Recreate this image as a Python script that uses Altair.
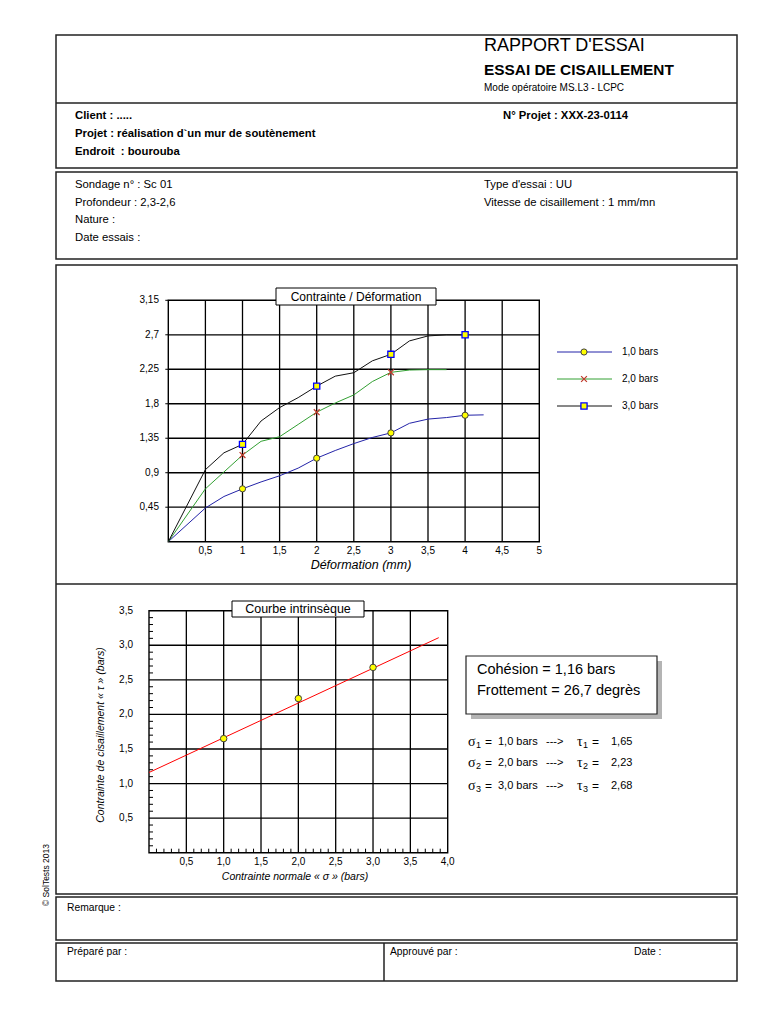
import altair as alt
import pandas as pd

# ---------------- data ----------------
deformation = [0, 0.5, 0.75, 1, 1.25, 1.5, 1.75, 2, 2.25, 2.5, 2.75, 3, 3.25, 3.5, 3.75, 4, 4.25]
tau_1bar = [0, 0.44, 0.59, 0.69, 0.78, 0.86, 0.96, 1.09, 1.19, 1.28, 1.36, 1.42, 1.545, 1.60, 1.62, 1.65, 1.655]
tau_2bar = [0, 0.69, 0.91, 1.13, 1.31, 1.37, 1.53, 1.69, 1.81, 1.915, 2.09, 2.21, 2.24, 2.245, 2.245]
tau_3bar = [0, 0.94, 1.16, 1.27, 1.575, 1.75, 1.88, 2.03, 2.16, 2.205, 2.36, 2.445, 2.62, 2.685, 2.70, 2.70]
marker_x_1bar = [1, 2, 3, 4]
marker_1bar = [0.69, 1.09, 1.42, 1.65]
marker_x_2bar = [1, 2, 3]
marker_2bar = [1.13, 1.69, 2.21]
marker_x_3bar = [1, 2, 3, 4]
marker_3bar = [1.27, 2.03, 2.445, 2.70]
series_names = ["1,0 bars", "2,0 bars", "3,0 bars"]
series_colors = ["#2323a8", "#33a033", "#111111"]

sigma = [1.0, 2.0, 3.0]
tau_max = [1.65, 2.23, 2.68]
fit_sigma = [0.0, 3.88]
fit_tau = [1.16, 3.11]
cohesion = 1.16
friction = 26.7

x1_ticks = [0.5, 1, 1.5, 2, 2.5, 3, 3.5, 4, 4.5, 5]
x1_labels = ["0,5", "1", "1,5", "2", "2,5", "3", "3,5", "4", "4,5", "5"]
y1_ticks = [0.45, 0.9, 1.35, 1.8, 2.25, 2.7, 3.15]
y1_labels = ["0,45", "0,9", "1,35", "1,8", "2,25", "2,7", "3,15"]
x2_ticks = [0.5, 1.0, 1.5, 2.0, 2.5, 3.0, 3.5, 4.0]
x2_labels = ["0,5", "1,0", "1,5", "2,0", "2,5", "3,0", "3,5", "4,0"]
y2_ticks = [0.5, 1.0, 1.5, 2.0, 2.5, 3.0, 3.5]
y2_labels = ["0,5", "1,0", "1,5", "2,0", "2,5", "3,0", "3,5"]
x2_minor = [i / 10 for i in range(1, 40) if i % 5]
y2_minor = [i / 10 for i in range(1, 35) if i % 5]

# ---------------- layout ----------------
W, H, O = 752, 1000, 8
FONT = "Liberation Sans"
SERIF = "Liberation Serif"
ONE = alt.Data(values=[{"k": 0}])
LINE = "#222222"


def txt(s, x, y, size=10.5, weight="normal", style="normal", align="left",
        angle=None, font=FONT, color="#000000"):
    props = dict(align=align, baseline="middle", fontSize=size, fontWeight=weight,
                 fontStyle=style, font=font, color=color)
    if angle is not None:
        props["angle"] = angle
    return alt.Chart(ONE).mark_text(**props).encode(
        x=alt.value(x - O), y=alt.value(y - O), text=alt.value(s))


def rect(x0, y0, x1, y1, fill="white", stroke=LINE, sw=1.5):
    props = dict(fill=fill, strokeWidth=sw)
    if stroke:
        props["stroke"] = stroke
    return alt.Chart(ONE).mark_rect(**props).encode(
        x=alt.value(x0 - O), x2=alt.value(x1 - O),
        y=alt.value(y0 - O), y2=alt.value(y1 - O))


def hline(x0, x1, y, color=LINE, sw=1.5):
    return alt.Chart(ONE).mark_rule(color=color, strokeWidth=sw).encode(
        x=alt.value(x0 - O), x2=alt.value(x1 - O), y=alt.value(y - O))


def vline(x, y0, y1, color=LINE, sw=1.5):
    return alt.Chart(ONE).mark_rule(color=color, strokeWidth=sw).encode(
        x=alt.value(x - O), y=alt.value(y0 - O), y2=alt.value(y1 - O))


def grid(xt, yt, sx, sy, xmax, ymax):
    dv = pd.DataFrame({"v": xt, "lo": 0.0, "hi": ymax})
    dh = pd.DataFrame({"v": yt, "lo": 0.0, "hi": xmax})
    gv = alt.Chart(dv).mark_rule(color="#000", strokeWidth=1.3).encode(
        x=alt.X("v:Q", scale=sx, axis=None),
        y=alt.Y("lo:Q", scale=sy, axis=None), y2="hi:Q")
    gh = alt.Chart(dh).mark_rule(color="#000", strokeWidth=1.3).encode(
        y=alt.Y("v:Q", scale=sy, axis=None),
        x=alt.X("lo:Q", scale=sx, axis=None), x2="hi:Q")
    fr = alt.Chart(pd.DataFrame({"x0": [0.0], "x1": [xmax], "y0": [0.0], "y1": [ymax]})).mark_rect(
        fillOpacity=0, stroke="#000", strokeWidth=1.4).encode(
        x=alt.X("x0:Q", scale=sx, axis=None), x2="x1:Q",
        y=alt.Y("y0:Q", scale=sy, axis=None), y2="y1:Q")
    return [gv, gh, fr]


def xlabels(vals, labs, sx, ypix, size=10):
    df = pd.DataFrame({"v": vals, "lab": labs})
    return alt.Chart(df).mark_text(align="center", baseline="middle", fontSize=size,
                                   font=FONT, color="#000").encode(
        x=alt.X("v:Q", scale=sx, axis=None), y=alt.value(ypix - O), text="lab:N")


def ylabels(vals, labs, sy, xpix, size=10):
    df = pd.DataFrame({"v": vals, "lab": labs})
    return alt.Chart(df).mark_text(align="right", baseline="middle", fontSize=size,
                                   font=FONT, color="#000").encode(
        y=alt.Y("v:Q", scale=sy, axis=None), x=alt.value(xpix - O), text="lab:N")


layers = []

# ---- page frames ----
layers += [
    rect(56, 35, 737, 168),
    hline(56, 737, 103),
    rect(56, 172, 737, 259),
    rect(56, 265, 737, 894),
    hline(56, 737, 584),
    rect(56, 897, 737, 940),
    rect(56, 943, 737, 981),
    vline(384, 943, 981),
]

# ---- header texts ----
layers += [
    txt("RAPPORT D'ESSAI", 484, 46, 18),
    txt("ESSAI DE CISAILLEMENT", 484, 70, 15.4, "bold"),
    txt("Mode opératoire MS.L3 - LCPC", 484, 88, 10),
    txt("Client : .....", 75, 116, 11.3, "bold"),
    txt("N° Projet : XXX-23-0114", 503, 116, 11.3, "bold"),
    txt("Projet : réalisation d`un mur de soutènement", 75, 134, 11.3, "bold"),
    txt("Endroit \u00a0: bourouba", 75, 152, 11.3, "bold"),
    txt("Sondage n° : Sc 01", 75, 185, 11.3),
    txt("Profondeur : 2,3-2,6", 75, 203, 11.3),
    txt("Nature :", 75, 220, 11.3),
    txt("Date essais :", 75, 238, 11.3),
    txt("Type d'essai : UU", 484, 185, 11.3),
    txt("Vitesse de cisaillement : 1 mm/mn", 484, 203, 11.3),
    txt("Remarque :", 67, 908, 10.3),
    txt("Préparé par :", 67, 952, 10.3),
    txt("Approuvé par :", 390, 952, 10.3),
    txt("Date :", 634, 952, 10.3),
    txt("© SolTests 2013", 46, 875, 8.5, align="center", angle=270),
]

# ---- chart 1 : Contrainte / Déformation ----
X1L, X1R, Y1B, Y1T = 168.3, 539.3, 541.7, 300.3
sx1 = alt.Scale(domain=[0, 5], range=[X1L - O, X1R - O], nice=False, zero=False)
sy1 = alt.Scale(domain=[0, 3.15], range=[Y1B - O, Y1T - O], nice=False, zero=False)
layers += grid(x1_ticks[:-1], y1_ticks[:-1], sx1, sy1, 5, 3.15)
layers.append(alt.Chart(pd.DataFrame({"v": y1_ticks})).mark_rule(color="#000", strokeWidth=1).encode(
    y=alt.Y("v:Q", scale=sy1, axis=None), x=alt.value(X1L - O - 3), x2=alt.value(X1L - O)))
layers.append(xlabels(x1_ticks, x1_labels, sx1, 551))
layers.append(ylabels(y1_ticks, y1_labels, sy1, 159))

curves = [tau_1bar, tau_2bar, tau_3bar]
mk_x = [marker_x_1bar, marker_x_2bar, marker_x_3bar]
mk_y = [marker_1bar, marker_2bar, marker_3bar]
mk_style = [
    dict(shape="circle", filled=True, fill="#ffff00", stroke="#404040", strokeWidth=1, size=38),
    dict(shape="M-1,-1L1,1M-1,1L1,-1", filled=False, stroke="#c0392b", strokeWidth=1.2, size=34),
    dict(shape="square", filled=True, fill="#ffff00", stroke="#0000ff", strokeWidth=1.3, size=38),
]
for i, ys in enumerate(curves):
    df = pd.DataFrame({"d": deformation[:len(ys)], "t": ys})
    layers.append(alt.Chart(df).mark_line(color=series_colors[i], strokeWidth=1).encode(
        x=alt.X("d:Q", scale=sx1, axis=None),
        y=alt.Y("t:Q", scale=sy1, axis=None),
        order="d:Q"))
for i in range(3):
    dm = pd.DataFrame({"d": mk_x[i], "t": mk_y[i]})
    layers.append(alt.Chart(dm).mark_point(opacity=1, **mk_style[i]).encode(
        x=alt.X("d:Q", scale=sx1, axis=None), y=alt.Y("t:Q", scale=sy1, axis=None)))

# title box chart 1
layers += [rect(276, 288, 436, 305, stroke="#000", sw=1),
           txt("Contrainte / Déformation", 356, 297, 12, align="center"),
           txt("Déformation (mm)", 361, 565, 12.5, style="italic", align="center")]

# legend chart 1
sleg = alt.Scale(type="point", domain=series_names, range=[352 - O, 406 - O], padding=0)
dleg = pd.DataFrame({"name": series_names})
layers.append(alt.Chart(dleg).mark_rule(strokeWidth=1).encode(
    x=alt.value(557 - O), x2=alt.value(612 - O),
    y=alt.Y("name:N", scale=sleg, axis=None),
    color=alt.Color("name:N", scale=alt.Scale(domain=series_names, range=series_colors), legend=None)))
for i, nm in enumerate(series_names):
    layers.append(alt.Chart(pd.DataFrame({"name": [nm]})).mark_point(opacity=1, **mk_style[i]).encode(
        x=alt.value(584 - O), y=alt.Y("name:N", scale=sleg, axis=None)))
layers.append(alt.Chart(dleg).mark_text(align="left", baseline="middle", fontSize=10, font=FONT, color="#000").encode(
    x=alt.value(622 - O), y=alt.Y("name:N", scale=sleg, axis=None), text="name:N"))

# ---- chart 2 : Courbe intrinsèque ----
X2L, X2R, Y2B, Y2T = 149.0, 447.7, 852.7, 610.7
sx2 = alt.Scale(domain=[0, 4], range=[X2L - O, X2R - O], nice=False, zero=False)
sy2 = alt.Scale(domain=[0, 3.5], range=[Y2B - O, Y2T - O], nice=False, zero=False)
layers += grid(x2_ticks[:-1], y2_ticks[:-1], sx2, sy2, 4.0, 3.5)

# minor ticks (inside)
layers.append(alt.Chart(pd.DataFrame({"v": x2_minor})).mark_rule(color="#000", strokeWidth=1).encode(
    x=alt.X("v:Q", scale=sx2, axis=None), y=alt.value(Y2B - O), y2=alt.value(Y2B - O - 4)))
layers.append(alt.Chart(pd.DataFrame({"v": y2_minor})).mark_rule(color="#000", strokeWidth=1).encode(
    y=alt.Y("v:Q", scale=sy2, axis=None), x=alt.value(X2L - O), x2=alt.value(X2L - O + 4)))
layers.append(xlabels(x2_ticks, x2_labels, sx2, 862))
layers.append(ylabels(y2_ticks, y2_labels, sy2, 133))

dfit = pd.DataFrame({"s": fit_sigma, "t": fit_tau})
layers.append(alt.Chart(dfit).mark_line(color="#ff0000", strokeWidth=1).encode(
    x=alt.X("s:Q", scale=sx2, axis=None), y=alt.Y("t:Q", scale=sy2, axis=None)))
dpts = pd.DataFrame({"s": sigma, "t": tau_max})
layers.append(alt.Chart(dpts).mark_point(shape="circle", filled=True, fill="#ffff00", stroke="#404040",
                                         strokeWidth=1, size=42, opacity=1).encode(
    x=alt.X("s:Q", scale=sx2, axis=None), y=alt.Y("t:Q", scale=sy2, axis=None)))

layers += [rect(232, 601, 364, 617, stroke="#000", sw=1),
           txt("Courbe intrinsèque", 298, 609, 12.5, align="center"),
           txt("Contrainte normale « σ » (bars)", 295, 877, 10.5, style="italic", align="center"),
           txt("Contrainte de cisaillement « τ » (bars)", 101, 735, 10.5, style="italic",
               align="center", angle=270)]


def fr(v, d):
    return f"{v:.{d}f}".replace(".", ",")


# result box
layers += [rect(471, 661, 662, 719, fill="#b4b4b4", stroke=None, sw=0),
           rect(466, 656, 657, 714, stroke="#222", sw=1.2),
           txt(f"Cohésion = {fr(cohesion, 2)} bars", 477, 670, 14.5),
           txt(f"Frottement = {fr(friction, 1)} degrès", 477, 691, 14.5)]

subs = ["1", "2", "3"]
rows_y = [742, 763, 786]
for i in range(3):
    y = rows_y[i]
    layers += [txt("σ", 468, y, 14, font=SERIF),
               txt(subs[i], 476, y + 3, 9),
               txt("=", 485, y, 12),
               txt(f"{fr(sigma[i], 1)} bars", 498, y, 11),
               txt("--->", 546, y, 11),
               txt("τ", 577, y, 14, font=SERIF),
               txt(subs[i], 583, y + 3, 9),
               txt("=", 592, y, 12),
               txt(fr(tau_max[i], 2), 611, y, 11)]

chart = alt.layer(*layers).resolve_scale(x="independent", y="independent").properties(
    width=W, height=H, autosize=alt.AutoSizeParams(type="none"), padding=0,
    background="white"
).configure_view(stroke="transparent")

chart.save("out.html", embed_options={"renderer": "svg", "actions": False})
